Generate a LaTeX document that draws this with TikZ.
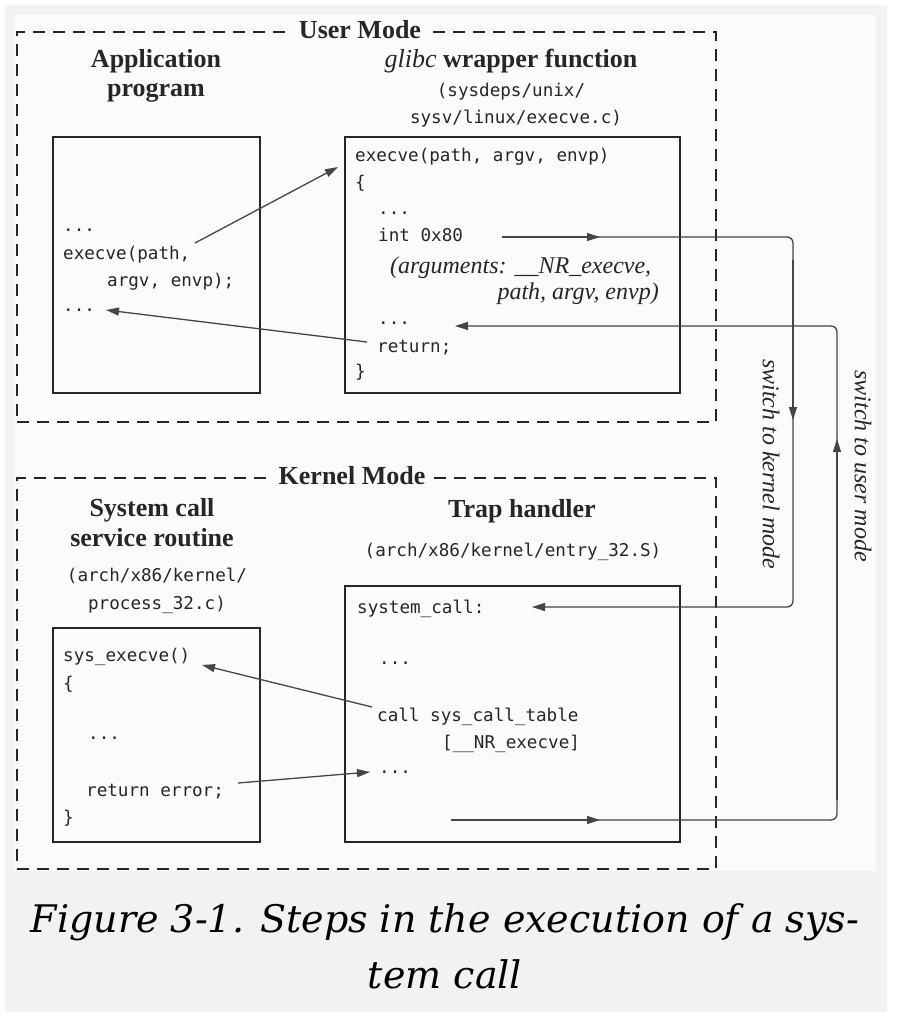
\documentclass[tikz,border=0pt]{standalone}
\usepackage{fontspec}
\setmainfont{Liberation Serif}
\newfontfamily\monof{DejaVu Sans Mono}
\newfontfamily\capf{DejaVu Serif}
\usetikzlibrary{arrows.meta}
\definecolor{panel}{HTML}{F2F2F2}
\definecolor{inner}{HTML}{FBFBFB}
\definecolor{ink}{HTML}{262626}
\definecolor{wire}{HTML}{454545}
\begin{document}
\begin{tikzpicture}[x=1pt,y=-1pt,
  code/.style={font=\monof\fontsize{17.6}{20}\selectfont, text=ink, anchor=base west, inner sep=0pt},
  pathtxt/.style={font=\monof\fontsize{17.6}{20}\selectfont, text=ink, anchor=base, inner sep=0pt},
  ttl/.style={font=\fontsize{26}{30}\selectfont\bfseries, text=ink, anchor=base, inner sep=0pt},
  ital/.style={font=\fontsize{24}{28}\selectfont\itshape, text=ink, inner sep=0pt},
  codebox/.style={draw=ink, line width=2.2pt, inner sep=0pt},
  modebox/.style={draw=ink, line width=2.4pt, dash pattern=on 12pt off 8pt, inner sep=0pt},
  modelabel/.style={font=\fontsize{26}{30}\selectfont\bfseries, text=ink, fill=inner, anchor=base, inner xsep=6pt, inner ysep=3pt},
  conn/.style={draw=wire, line width=1.3pt},
  tip/.style={-{Triangle[length=13pt,width=8pt]}},
  captxt/.style={font=\capf\itshape\fontsize{38}{44}\selectfont, text=black, anchor=base, inner sep=0pt},
]
% background
\useasboundingbox (0,0) rectangle (898,1026);
\fill[white] (0,0) rectangle (898,1026);
\fill[panel] (5,5) rectangle (887,1012);
\fill[inner] (15,15) rectangle (876,871);

% mode boxes
\node[modebox, minimum width=699pt, minimum height=390pt] (usermode) at (366.5,227) {};
\node[modelabel] (userlbl) at (360,38.5) {User Mode};
\node[modebox, minimum width=699pt, minimum height=391pt] (kernmode) at (366.5,673.5) {};
\node[modelabel] (kernlbl) at (352,484.5) {Kernel Mode};

% code boxes
\node[codebox, minimum width=207pt, minimum height=256pt] (appbox) at (156.5,265) {};
\node[codebox, minimum width=335pt, minimum height=256pt] (glibcbox) at (512.5,265) {};
\node[codebox, minimum width=207pt, minimum height=214pt] (sysbox) at (156.5,735) {};
\node[codebox, minimum width=335pt, minimum height=256pt] (trapbox) at (512.5,714) {};

% user-mode titles
\node[ttl] (apptitle1) at (156,67) {Application};
\node[ttl] (apptitle2) at (156,96) {program};
\node[ttl] (glibctitle) at (511,67) {\textit{\mdseries glibc} wrapper function};
\node[pathtxt] (glibcpath1) at (511,96) {(sysdeps/unix/};
\node[pathtxt] (glibcpath2) at (516,123) {sysv/linux/execve.c)};

% application program code
\node[code] (appdots1) at (63,231) {...};
\node[code] (appexec) at (63,259) {execve(path,};
\node[code] (appargs) at (107,286) {argv, envp);};
\node[code] (appdots2) at (63,311) {...};

% glibc code
\node[code] (gexec) at (355,161) {execve(path, argv, envp)};
\node[code] (gopen) at (355,188) {\{};
\node[code] (gdots1) at (378,214) {...};
\node[code] (gint) at (378,241) {int 0x80};
\node[ital, anchor=base west] (gargs1) at (390,273) {(arguments: \_\_NR\_execve,};
\node[ital, anchor=base east] (gargs2) at (659,299) {path, argv, envp)};
\node[code] (gdots2) at (378,324) {...};
\node[code] (gret) at (377,352) {return;};
\node[code] (gclose) at (355,377) {\}};

% kernel-mode titles
\node[ttl] (systitle1) at (152,516) {System call};
\node[ttl] (systitle2) at (152,546) {service routine};
\node[pathtxt] (syspath1) at (157,581) {(arch/x86/kernel/};
\node[pathtxt] (syspath2) at (157,609) {process\_32.c)};
\node[ttl] (traptitle) at (522,517) {Trap handler};
\node[pathtxt] (trappath) at (513,556) {(arch/x86/kernel/entry\_32.S)};

% service routine code
\node[code] (sexec) at (63,661) {sys\_execve()};
\node[code] (sopen) at (63,689) {\{};
\node[code] (sdots) at (88,739) {...};
\node[code] (sret) at (86,796) {return error;};
\node[code] (sclose) at (63,823) {\}};

% trap handler code
\node[code] (tlabel) at (357,613) {system\_call:};
\node[code] (tdots1) at (379,664) {...};
\node[code] (tcall) at (377,721) {call sys\_call\_table};
\node[code] (tidx) at (442,748) {[\_\_NR\_execve]};
\node[code] (tdots2) at (379,773) {...};

% side labels
\node[ital, rotate=-90] (tokernel) at (771,464) {switch to kernel mode};
\node[ital, rotate=-90] (touser) at (863,466) {switch to user mode};

% connector end points
\coordinate (callS) at (195,243);
\coordinate (callE) at (338,167);
\coordinate (backS) at (367,342);
\coordinate (backE) at (106,310);
\coordinate (intS) at (502,237);
\coordinate (intM) at (600,237);
\coordinate (kTop) at (793,237);
\coordinate (kTop2) at (793,260);
\coordinate (kMid) at (793,420);
\coordinate (kBot) at (793,607);
\coordinate (sysIn) at (532,607);
\coordinate (retS) at (451,820);
\coordinate (retM) at (600,820);
\coordinate (uBot) at (837,820);
\coordinate (uBot2) at (837,800);
\coordinate (uMid) at (837,439);
\coordinate (uTop) at (837,326);
\coordinate (glibIn) at (455,326);
\coordinate (tcS) at (372,707);
\coordinate (tcE) at (202,665);
\coordinate (reS) at (238,783);
\coordinate (reE) at (370,772);

% connectors
\draw[conn, tip] (callS) -- (callE);
\draw[conn, tip] (backS) -- (backE);
\draw[conn, tip, rounded corners=6pt] (intS) -- (kTop) -- (kBot) -- (sysIn);
\draw[conn, tip] (intS) -- (intM);
\draw[conn, tip] (kTop2) -- (kMid);
\draw[conn, tip, rounded corners=6pt] (retS) -- (uBot) -- (uTop) -- (glibIn);
\draw[conn, tip] (retS) -- (retM);
\draw[conn, tip] (uBot2) -- (uMid);
\draw[conn, tip] (tcS) -- (tcE);
\draw[conn, tip] (reS) -- (reE);

% caption
\node[captxt] (cap1) at (445,932) {Figure 3-1. Steps in the execution of a sys-};
\node[captxt] (cap2) at (445,988) {tem call};
\end{tikzpicture}
\end{document}
